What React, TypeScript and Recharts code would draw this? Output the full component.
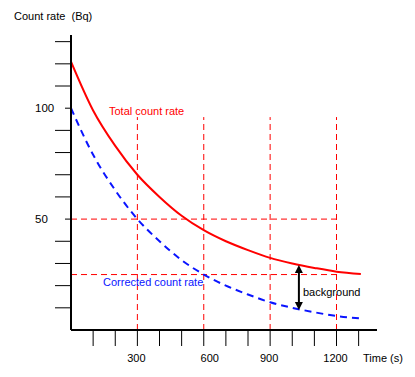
import React from 'react';
import {
  ComposedChart,
  Line,
  XAxis,
  YAxis,
  ReferenceLine,
} from 'recharts';

// values
const times = [0, 100, 200, 300, 400, 500, 600, 700, 800, 900, 1000, 1100, 1200, 1310];
const totalRate = [121, 99, 83, 70, 60, 51.5, 45, 40, 36, 32.5, 30, 28, 26.3, 25.3];
const correctedRate = [100, 79, 63, 50, 40, 31.5, 25, 20, 16, 12.5, 10, 8, 6.3, 5.2];

const xTicks = [100, 200, 300, 400, 500, 600, 700, 800, 900, 1000, 1100, 1200, 1300];
const xLabels = [300, 600, 900, 1200];
const yTicks = [10, 20, 30, 40, 50, 60, 70, 80, 90, 100, 110, 120, 130];
const yLabels = [50, 100];

const guideTimes = [300, 600, 900, 1200];
const guideLevels = [50, 25];
const guideTop = 96;
const arrow = { t: 1030, top: 29.3, bottom: 9 };

const data = times.map((t, i) => ({ t, total: totalRate[i], corrected: correctedRate[i] }));

const FONT = '"Liberation Sans", Arial, sans-serif';
const RED = '#ff0000';
const BLUE = '#0a14ff';

const XTick = (props: any) => {
  const { x, y, payload } = props;
  const v = payload.value;
  return (
    <g>
      <line x1={x} y1={y} x2={x} y2={y + 16} stroke="#000" strokeWidth={1} />
      {xLabels.includes(v) && (
        <text x={x + (v === 600 ? 6 : -1)} y={y + 32} textAnchor="middle" fontSize={11} fontFamily={FONT} fill="#000">
          {v}
        </text>
      )}
    </g>
  );
};

const YTick = (props: any) => {
  const { x, y, payload } = props;
  const v = payload.value;
  const labeled = yLabels.includes(v);
  return (
    <g>
      <line x1={labeled ? x - 6 : x - 16} y1={y} x2={x} y2={y} stroke="#000" strokeWidth={1} />
      {labeled && (
        <text x={35} y={y + 4} fontSize={11.5} fontFamily={FONT} fill="#000">
          {v}
        </text>
      )}
    </g>
  );
};

const ArrowShape = (props: any) => {
  const { x1, y1, x2, y2 } = props;
  if (x1 == null) return <g />;
  return (
    <g>
      <line x1={x1} y1={y1 + 6} x2={x2} y2={y2 - 6} stroke="#000" strokeWidth={2} />
      <polygon points={`${x1},${y1} ${x1 - 4},${y1 + 8} ${x1 + 4},${y1 + 8}`} fill="#000" />
      <polygon points={`${x2},${y2} ${x2 - 4},${y2 - 8} ${x2 + 4},${y2 - 8}`} fill="#000" />
    </g>
  );
};

export default function App() {
  return (
    <div style={{ position: 'absolute', left: 0, top: 0, width: 415, height: 377, background: '#fff' }}>
      <ComposedChart
        width={415}
        height={377}
        data={data}
        margin={{ top: 35, right: 38, left: 0, bottom: 0 }}
      >
        <XAxis
          dataKey="t"
          type="number"
          domain={[0, 1383]}
          ticks={xTicks}
          interval={0}
          tick={<XTick />}
          tickLine={false}
          tickSize={0}
          tickMargin={0}
          height={47}
          axisLine={{ stroke: '#000', strokeWidth: 2 }}
          allowDataOverflow
        />
        <YAxis
          type="number"
          domain={[0, 133]}
          ticks={yTicks}
          interval={0}
          tick={<YTick />}
          tickLine={false}
          tickSize={0}
          tickMargin={0}
          width={71}
          axisLine={{ stroke: '#000', strokeWidth: 2 }}
          allowDataOverflow
        />
        {guideTimes.map((g) => (
          <ReferenceLine
            key={`v${g}`}
            segment={[{ x: g, y: 0 }, { x: g, y: guideTop }]}
            stroke={RED}
            strokeDasharray="6 4"
            strokeWidth={1}
          />
        ))}
        {guideLevels.map((g) => (
          <ReferenceLine
            key={`h${g}`}
            segment={[{ x: 0, y: g }, { x: 1200, y: g }]}
            stroke={RED}
            strokeDasharray="6 4"
            strokeWidth={1}
          />
        ))}
        <Line
          dataKey="total"
          type="monotone"
          stroke={RED}
          strokeWidth={2}
          dot={false}
          isAnimationActive={false}
        />
        <Line
          dataKey="corrected"
          type="monotone"
          stroke={BLUE}
          strokeWidth={2}
          strokeDasharray="7 5"
          dot={false}
          isAnimationActive={false}
        />
        <ReferenceLine
          segment={[{ x: arrow.t, y: arrow.top }, { x: arrow.t, y: arrow.bottom }]}
          stroke="#000"
          shape={<ArrowShape />}
        />
      </ComposedChart>
      <svg
        width={415}
        height={377}
        style={{ position: 'absolute', left: 0, top: 0, pointerEvents: 'none', whiteSpace: 'pre' }}
        fontFamily={FONT}
        fontSize={11}
      >
        <text x={14} y={20} fill="#000">{'Count rate\u00a0\u00a0(Bq)'}</text>
        <text x={363} y={362} fill="#000">Time (s)</text>
        <text x={109} y={115} fill={RED}>Total count rate</text>
        <text x={103} y={286} fill={BLUE}>Corrected count rate</text>
        <text x={303} y={296} fill="#000">background</text>
      </svg>
    </div>
  );
}
